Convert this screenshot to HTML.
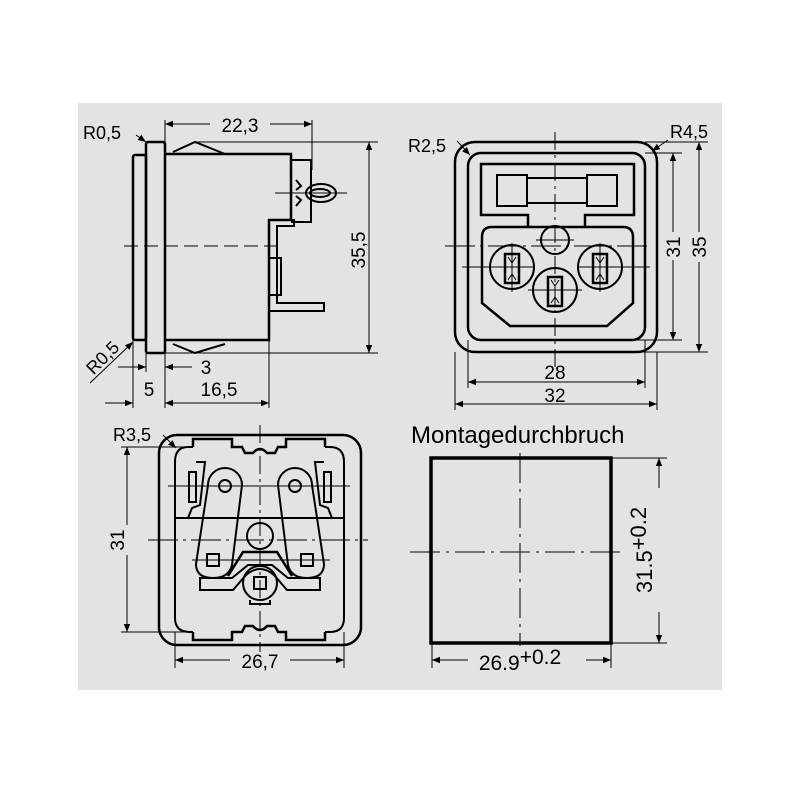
<!DOCTYPE html>
<html><head><meta charset="utf-8"><style>
html,body{margin:0;padding:0;background:#fff}
svg{display:block}
text{font-family:"Liberation Sans",sans-serif;fill:#000}
</style></head><body>
<svg width="800" height="800" viewBox="0 0 800 800" xmlns="http://www.w3.org/2000/svg">
<defs>
<marker id="a" viewBox="0 0 10 10" refX="10" refY="5" markerWidth="10" markerHeight="8" markerUnits="userSpaceOnUse" orient="auto-start-reverse"><path d="M0,1 L10,5 L0,9 Z" fill="#000"/></marker>
</defs>
<rect x="78" y="103" width="644" height="587" fill="#e3e3e3"/>

<!-- ========== SIDE VIEW ========== -->
<g fill="none" stroke="#000" stroke-width="2.5">
<rect x="133" y="155" width="13" height="185" rx="2"/>
<rect x="146" y="142" width="19" height="211" rx="2"/>
<path d="M165,154 L291,154 L291,220 L269,220 L269,340 L165,340"/>
<path d="M173,152 L195,142 L225,154" stroke-width="2"/>
<path d="M173,344 L195,353 L225,344" stroke-width="2"/>
<path d="M291,160 L311,160 L311,222 L291,222" stroke-width="2"/>
<ellipse cx="321" cy="193" rx="15" ry="9" stroke-width="2"/>
<ellipse cx="320" cy="193" rx="10" ry="4" stroke-width="2"/>
<path d="M296,180 L301,186 L296,190 M296,196 L301,200 L296,206" stroke-width="2"/>
<path d="M269,220 L294,220 L294,226 L277,226 L277,303 L324,303 L324,311 L269,311" stroke-width="2"/>
<rect x="269" y="258" width="12" height="37" stroke-width="2"/>
</g>
<g stroke="#000" stroke-width="1" fill="none">
<line x1="124" y1="246" x2="283" y2="246" stroke-dasharray="14,6"/>
<line x1="275" y1="193" x2="347" y2="193"/>
<line x1="165" y1="120" x2="165" y2="154"/>
<line x1="312" y1="120" x2="312" y2="170"/>
<line x1="165" y1="124" x2="210" y2="124" marker-start="url(#a)"/>
<line x1="270" y1="124" x2="312" y2="124" marker-end="url(#a)"/>
<line x1="195" y1="142" x2="378" y2="142"/>
<line x1="165" y1="353" x2="378" y2="353"/>
<line x1="369" y1="142" x2="369" y2="353" marker-start="url(#a)" marker-end="url(#a)"/>
<line x1="133" y1="340" x2="133" y2="408"/>
<line x1="146" y1="353" x2="146" y2="372"/>
<line x1="165" y1="353" x2="165" y2="408"/>
<line x1="269" y1="340" x2="269" y2="408"/>
<line x1="118" y1="367" x2="146" y2="367" marker-end="url(#a)"/>
<line x1="192" y1="367" x2="165" y2="367" marker-end="url(#a)"/>
<line x1="105" y1="403" x2="133" y2="403" marker-end="url(#a)"/>
<line x1="165" y1="403" x2="269" y2="403" marker-start="url(#a)" marker-end="url(#a)"/>
<line x1="136" y1="135" x2="146" y2="142" marker-end="url(#a)"/>
<line x1="90" y1="383" x2="133" y2="342" marker-end="url(#a)"/>
</g>
<text x="83" y="139" font-size="18">R0,5</text>
<text x="240" y="132" font-size="19" text-anchor="middle">22,3</text>
<text x="0" y="0" font-size="19" text-anchor="middle" transform="translate(365,250) rotate(-90)">35,5</text>
<text x="0" y="0" font-size="18" text-anchor="middle" transform="translate(107,362) rotate(-45)">R0,5</text>
<text x="206" y="374" font-size="19" text-anchor="middle">3</text>
<text x="149" y="396" font-size="19" text-anchor="middle">5</text>
<text x="219" y="396" font-size="19" text-anchor="middle">16,5</text>

<!-- ========== FRONT VIEW ========== -->
<g fill="none" stroke="#000" stroke-width="2.5">
<rect x="455" y="142" width="202" height="210" rx="20"/>
<rect x="468" y="153" width="177" height="187" rx="13"/>
<path d="M528,227 L528,215 L481,215 L481,164 L634,164 L634,215 L585,215 L585,227"/>
<path d="M492,227 L623,227 Q633,227 633,237 L633,303 L607,326 L510,326 L482,303 L482,237 Q482,227 492,227 Z"/>
<rect x="497" y="175" width="30" height="31" stroke-width="2"/>
<rect x="527" y="178" width="60" height="25" stroke-width="2"/>
<rect x="587" y="175" width="30" height="31" stroke-width="2"/>
<circle cx="555" cy="240" r="14" stroke-width="2"/>
<circle cx="512" cy="267" r="22" stroke-width="2"/>
<circle cx="600" cy="267" r="22" stroke-width="2"/>
<circle cx="555" cy="290" r="22" stroke-width="2"/>
<rect x="505" y="254" width="14" height="29" stroke-width="2.5"/>
<rect x="593" y="254" width="14" height="29" stroke-width="2.5"/>
<rect x="548" y="277" width="14" height="29" stroke-width="2.5"/>
<path d="M508,257 L512,263 L516,257 M508,280 L512,274 L516,280 L512,274 L512,263" stroke-width="1"/>
<path d="M596,257 L600,263 L604,257 M596,280 L600,274 L604,280 L600,274 L600,263" stroke-width="1"/>
<path d="M551,280 L555,286 L559,280 M551,303 L555,297 L559,303 L555,297 L555,286" stroke-width="1"/>
</g>
<g stroke="#000" stroke-width="1" fill="none">
<line x1="555" y1="132" x2="555" y2="368" stroke-dasharray="18,5,3,5"/>
<line x1="445" y1="246" x2="650" y2="246" stroke-dasharray="30,5,3,5"/>
<line x1="536" y1="240" x2="574" y2="240"/>
<line x1="462" y1="267" x2="535" y2="267"/><line x1="512" y1="243" x2="512" y2="292"/>
<line x1="578" y1="267" x2="650" y2="267"/><line x1="600" y1="243" x2="600" y2="292"/>
<line x1="528" y1="290" x2="582" y2="290"/>
<line x1="645" y1="153" x2="682" y2="153"/>
<line x1="632" y1="340" x2="682" y2="340"/>
<line x1="645" y1="142" x2="708" y2="142"/>
<line x1="620" y1="352" x2="708" y2="352"/>
<line x1="673" y1="153" x2="673" y2="340" marker-start="url(#a)" marker-end="url(#a)"/>
<line x1="699" y1="142" x2="699" y2="352" marker-start="url(#a)" marker-end="url(#a)"/>
<line x1="468" y1="340" x2="468" y2="388"/>
<line x1="645" y1="340" x2="645" y2="388"/>
<line x1="455" y1="352" x2="455" y2="410"/>
<line x1="657" y1="352" x2="657" y2="410"/>
<line x1="468" y1="382" x2="645" y2="382" marker-start="url(#a)" marker-end="url(#a)"/>
<line x1="455" y1="404" x2="657" y2="404" marker-start="url(#a)" marker-end="url(#a)"/>
<line x1="457" y1="141" x2="470" y2="155" marker-end="url(#a)"/>
<line x1="668" y1="140" x2="652" y2="151" marker-end="url(#a)"/>
</g>
<rect x="662" y="232" width="22" height="28" fill="#e3e3e3"/>
<rect x="688" y="232" width="22" height="30" fill="#e3e3e3"/>
<text x="408" y="152" font-size="18">R2,5</text>
<text x="670" y="138" font-size="18">R4,5</text>
<text x="0" y="0" font-size="19" text-anchor="middle" transform="translate(680,247) rotate(-90)">31</text>
<text x="0" y="0" font-size="19" text-anchor="middle" transform="translate(706,247) rotate(-90)">35</text>
<text x="555" y="379" font-size="19" text-anchor="middle">28</text>
<text x="555" y="402" font-size="19" text-anchor="middle">32</text>

<!-- ========== REAR VIEW ========== -->
<g fill="none" stroke="#000" stroke-width="2.5">
<rect x="159" y="435" width="202" height="210" rx="18"/>
<path d="M193,447 L193,439 L232,439 L232,447 L242,447 L245,453 L253,453 Q260,445 267,453 L275,453 L278,447 L286,447 L286,439 L325,439 L325,447"/>
<path d="M193,632 L193,640 L232,640 L232,632 L242,632 L245,626 L253,626 Q260,634 267,626 L275,626 L278,632 L286,632 L286,640 L325,640 L325,632"/>
<path d="M193,447 L188,447 Q175,447 175,462 L175,618 Q175,632 190,632 L193,632 M325,447 L330,447 Q344,447 344,462 L344,618 Q344,632 330,632 L325,632" stroke-width="2"/>
<line x1="175" y1="518" x2="344" y2="518" stroke-width="2"/>
<path d="M208,485 A17,17 0 0 1 242,485 L232,565 Q229,578 213,578 Q196,578 196,564 Z" stroke-width="2"/>
<path d="M312,485 A17,17 0 0 0 278,485 L288,565 Q291,578 307,578 Q324,578 324,564 Z" stroke-width="2"/>
<circle cx="225" cy="486" r="6" stroke-width="2"/>
<circle cx="295" cy="486" r="6" stroke-width="2"/>
<rect x="207" y="554" width="12" height="12" stroke-width="2"/>
<rect x="301" y="554" width="12" height="12" stroke-width="2"/>
<path d="M200,578 L232,578 L248,565 L272,565 L288,578 L320,578 L320,590 L287,590 L274,575 Q260,563 246,575 L233,590 L200,590 Z" stroke-width="2"/>
<path d="M228,576 L243,552 L277,552 L292,576" stroke-width="2.5"/>
<circle cx="260" cy="583" r="17" stroke-width="2"/>
<rect x="254" y="577" width="12" height="12" stroke-width="2"/>
<path d="M250,600 L250,604 L270,604 L270,600" stroke-width="2"/>
<circle cx="260" cy="536" r="13" stroke-width="2"/>
<path d="M196,462 L205,462 L200,505 L192,508 L188,518 M324,462 L315,462 L320,505 L328,508 L332,518" stroke-width="2"/>
<rect x="189" y="472" width="7" height="30" stroke-width="2"/>
<rect x="324" y="472" width="7" height="30" stroke-width="2"/>
</g>
<g stroke="#000" stroke-width="1" fill="none">
<line x1="260" y1="425" x2="260" y2="652" stroke-dasharray="18,5,3,5"/>
<line x1="148" y1="540" x2="368" y2="540" stroke-dasharray="30,5,3,5"/>
<line x1="168" y1="486" x2="350" y2="486"/>
<line x1="192" y1="560" x2="330" y2="560"/>
<line x1="121" y1="447" x2="193" y2="447"/>
<line x1="121" y1="632" x2="193" y2="632"/>
<line x1="127" y1="447" x2="127" y2="632" marker-start="url(#a)" marker-end="url(#a)"/>
<line x1="175" y1="632" x2="175" y2="668"/>
<line x1="344" y1="632" x2="344" y2="668"/>
<line x1="175" y1="660" x2="230" y2="660" marker-start="url(#a)"/>
<line x1="290" y1="660" x2="344" y2="660" marker-end="url(#a)"/>
<line x1="163" y1="435" x2="176" y2="448" marker-end="url(#a)"/>
</g>
<rect x="108" y="525" width="22" height="30" fill="#e3e3e3"/>
<text x="113" y="441" font-size="18">R3,5</text>
<text x="0" y="0" font-size="19" text-anchor="middle" transform="translate(124,540) rotate(-90)">31</text>
<text x="260" y="668" font-size="19" text-anchor="middle">26,7</text>

<!-- ========== CUTOUT ========== -->
<text x="411" y="443" font-size="24">Montagedurchbruch</text>
<rect x="431" y="458" width="180" height="185" fill="none" stroke="#000" stroke-width="3.5"/>
<g stroke="#000" stroke-width="1" fill="none">
<line x1="520" y1="453" x2="520" y2="646" stroke-dasharray="30,6,3,6"/>
<line x1="410" y1="552" x2="625" y2="552" stroke-dasharray="30,6,3,6"/>
<line x1="611" y1="458" x2="667" y2="458"/>
<line x1="611" y1="643" x2="667" y2="643"/>
<line x1="659" y1="458" x2="659" y2="643" marker-start="url(#a)" marker-end="url(#a)"/>
<line x1="432" y1="643" x2="432" y2="668"/>
<line x1="611" y1="643" x2="611" y2="668"/>
<line x1="432" y1="660" x2="468" y2="660" marker-start="url(#a)"/>
<line x1="586" y1="660" x2="611" y2="660" marker-end="url(#a)"/>
</g>
<rect x="638" y="488" width="34" height="124" fill="#e3e3e3"/>
<text x="0" y="0" font-size="22" text-anchor="middle" transform="translate(652,550) rotate(-90)">31.5<tspan dy="-6">+0.2</tspan></text>
<text x="520" y="670" font-size="21" text-anchor="middle">26.9<tspan dy="-6">+0.2</tspan></text>
</svg>
</body></html>
